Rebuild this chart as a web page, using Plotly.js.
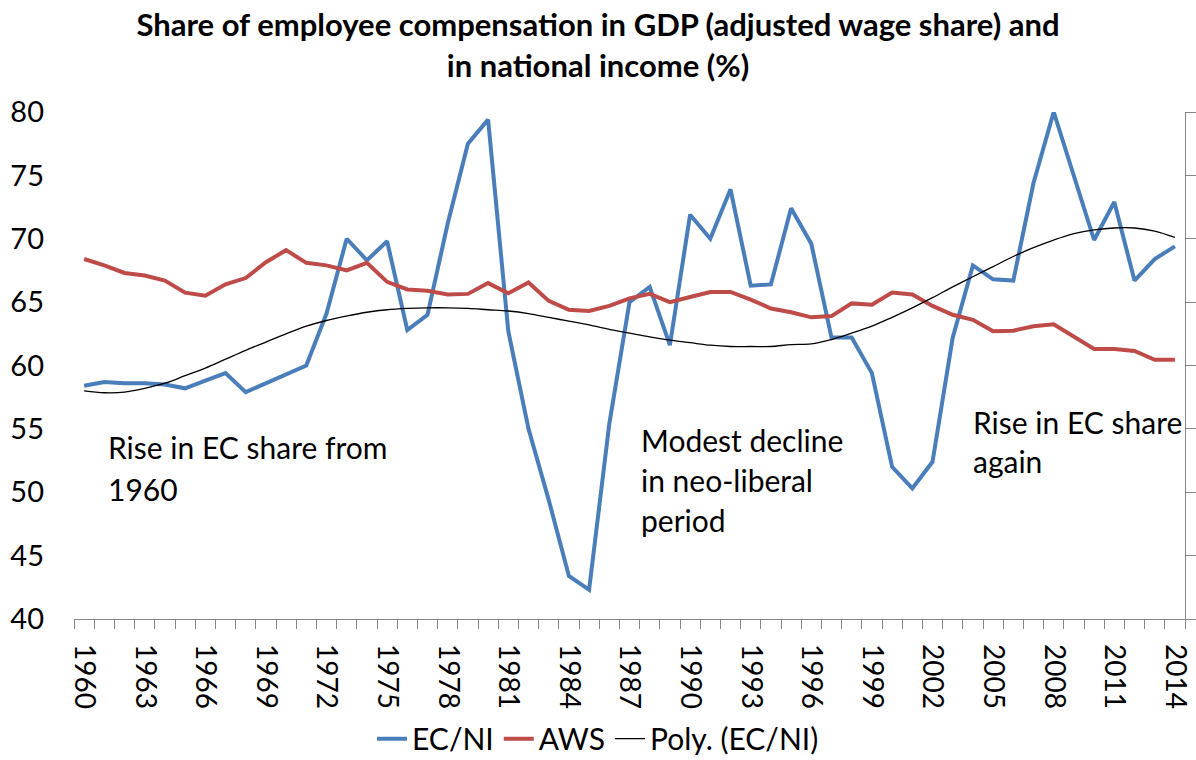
<!DOCTYPE html>
<html>
<head>
<meta charset="utf-8">
<script src="https://cdn.plot.ly/plotly-3.0.1.min.js"></script>
<style>html,body{margin:0;padding:0;background:#fff;}#chart{width:1196px;height:760px;}</style>
</head>
<body>
<div id="chart"></div>
<script>
const years = [1960,1961,1962,1963,1964,1965,1966,1967,1968,1969,
  1970,1971,1972,1973,1974,1975,1976,1977,1978,1979,
  1980,1981,1982,1983,1984,1985,1986,1987,1988,1989,
  1990,1991,1992,1993,1994,1995,1996,1997,1998,1999,
  2000,2001,2002,2003,2004,2005,2006,2007,2008,2009,
  2010,2011,2012,2013,2014];
const ecni = [58.4,58.7,58.6,58.6,58.5,58.2,58.8,59.4,57.9,58.6,
  59.3,60.0,64.1,70.0,68.3,69.8,62.8,64.0,71.2,77.5,
  79.4,62.7,55.0,49.4,43.4,42.3,55.4,65.0,66.2,61.6,
  71.9,70.0,73.9,66.3,66.4,72.4,69.6,62.2,62.2,59.4,
  52.0,50.3,52.4,62.2,67.9,66.8,66.7,74.4,80.0,75.0,
  69.9,72.9,66.7,68.4,69.4];
const aws = [68.4,67.9,67.3,67.1,66.7,65.75,65.5,66.4,66.9,68.15,
  69.1,68.1,67.9,67.5,68.1,66.6,66.0,65.9,65.6,65.65,
  66.5,65.7,66.55,65.1,64.4,64.3,64.7,65.3,65.65,65.0,
  65.4,65.8,65.8,65.2,64.5,64.2,63.8,63.9,64.9,64.8,
  65.75,65.6,64.7,64.0,63.6,62.7,62.75,63.1,63.25,62.3,
  61.3,61.3,61.15,60.45,60.45];
const polyTrend = [58.0,57.85,57.9,58.2,58.6,59.2,59.8,60.5,61.2,61.85,
  62.5,63.1,63.55,63.9,64.2,64.4,64.5,64.55,64.55,64.5,
  64.4,64.3,64.1,63.8,63.5,63.2,62.85,62.55,62.25,62.0,
  61.8,61.6,61.5,61.5,61.5,61.65,61.7,62.05,62.55,63.1,
  63.8,64.55,65.35,66.2,67.0,67.8,68.6,69.3,69.9,70.4,
  70.7,70.85,70.85,70.6,70.1];
const yTicks = [40,45,50,55,60,65,70,75,80];
const xLabelYears = [1960,1963,1966,1969,1972,1975,1978,1981,1984,1987,1990,1993,1996,1999,2002,2005,2008,2011,2014];
const seriesNames = ['EC/NI','AWS','Poly. (EC/NI)'];
const titleText = '<b>Share of employee compensation in GDP (adjusted wage share) and<br>in national income (%)</b>';
const notes = [
  {lines:['Rise in EC share from','1960'], x:0.0285, y:[0.339,0.2564]},
  {lines:['Modest decline','in neo-liberal','period'], x:0.509, y:[0.353,0.274,0.195]},
  {lines:['Rise in EC share','again'], x:0.807, y:[0.3886,0.3116]}
];

const font = 'Lato, "Open Sans", sans-serif';
const gray = '#868686';
const xr = [years[0]-0.5, years[years.length-1]+0.5];
const halfTicks = [];
for (let i = 0; i <= years.length; i++) halfTicks.push(years[0]-0.5+i);

const traces = [
  {x: years, y: ecni, name: seriesNames[0], type:'scatter', mode:'lines',
   line:{color:'#4A7EBB', width:4}, xaxis:'x', yaxis:'y'},
  {x: years, y: aws, name: seriesNames[1], type:'scatter', mode:'lines',
   line:{color:'#BE4B48', width:4}, xaxis:'x', yaxis:'y'},
  {x: years, y: polyTrend, name: seriesNames[2], type:'scatter', mode:'lines',
   line:{color:'#000000', width:1.3, shape:'spline'}, xaxis:'x2', yaxis:'y2'}
];

const annotations = [];
notes.forEach(n => n.lines.forEach((t, i) => annotations.push({
  text: t, xref:'paper', yref:'paper', x:n.x, y:n.y[i], xanchor:'left', yanchor:'middle',
  showarrow:false, font:{family:font, size:30, color:'#000'}
})));

const layout = {
  width:1196, height:760,
  margin:{l:74, r:11, t:112, b:141},
  paper_bgcolor:'#fff', plot_bgcolor:'rgba(0,0,0,0)',
  font:{family:font, color:'#000'},
  title:{text:titleText, font:{family:font, size:31, color:'#000'}, x:0.5, xanchor:'center',
         yref:'container', y:0.952, yanchor:'top'},
  showlegend:true,
  legend:{orientation:'h', xref:'container', yref:'container', x:0.5, xanchor:'center', y:0.028, yanchor:'middle',
          font:{family:font, size:30, color:'#000'}, bgcolor:'rgba(0,0,0,0)'},
  xaxis:{range:xr, tickmode:'array', tickvals:halfTicks, ticktext:halfTicks.map(()=>''),
         ticks:'outside', ticklen:9, tickcolor:gray, tickwidth:1, showline:true, linecolor:gray, linewidth:1,
         showgrid:false, zeroline:false, fixedrange:true},
  xaxis2:{range:xr, overlaying:'x', anchor:'y', side:'bottom', tickmode:'array', tickvals:xLabelYears,
          ticktext:xLabelYears.map(String), ticks:'', tickangle:90, ticklabelstandoff:24,
          tickfont:{family:font, size:28, color:'#000'}, showline:false, showgrid:false, zeroline:false},
  yaxis:{range:[40,80], tickmode:'array', tickvals:yTicks, ticks:'', showline:false, showgrid:false, zeroline:false,
         tickfont:{family:font, size:29, color:'#000'}, ticklabelstandoff:29},
  yaxis2:{range:[40,80], overlaying:'y', anchor:'x', side:'right', tickmode:'array', tickvals:yTicks,
          ticks:'outside', ticklen:10, tickcolor:gray, showticklabels:false, showline:true, linecolor:gray,
          linewidth:1, showgrid:false, zeroline:false},
  annotations: annotations
};
Plotly.newPlot('chart', traces, layout, {displayModeBar:false, staticPlot:true});
</script>
</body>
</html>
